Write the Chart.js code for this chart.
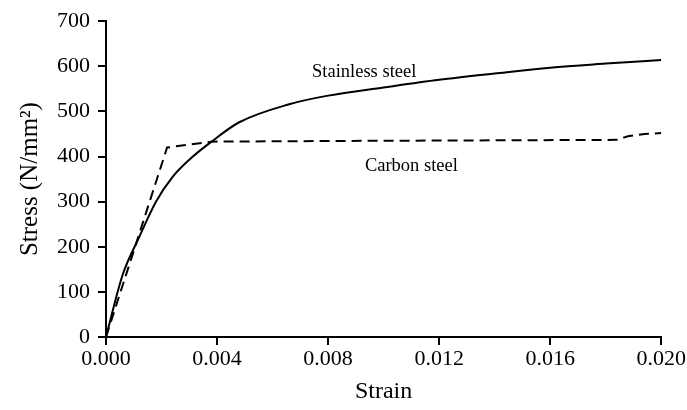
<!DOCTYPE html>
<html>
<head>
<meta charset="utf-8">
<script src="https://cdn.jsdelivr.net/npm/chart.js@4"></script>
<style>
  body { margin: 0; background: #fff; }
</style>
</head>
<body>
<canvas id="c" width="687" height="410"></canvas>
<script>
// ====== Data ======
const stainlessStrain = [0, 0.0006, 0.0012, 0.0018, 0.0024, 0.0030, 0.0038, 0.0048, 0.0066, 0.0080, 0.0100, 0.0120, 0.0140, 0.0160, 0.0180, 0.0200];
const stainlessStress = [0, 138, 222, 300, 355, 393, 433, 476, 516, 535, 553, 570, 584, 597, 606, 614];

const carbonStrain = [0, 0.0022, 0.0038, 0.0100, 0.0184, 0.0188, 0.0194, 0.0200];
const carbonStress = [0, 420, 433, 435, 437, 445, 450, 452];

const xTicks = [0, 0.004, 0.008, 0.012, 0.016, 0.020];

// text labels placed in data units
const labels = [
  { text: "Stainless steel", x: 0.0093, y: 586 },
  { text: "Carbon steel", x: 0.0110, y: 378 }
];

const font = "'Liberation Serif', 'Times New Roman', serif";

const zip = (xs, ys) => xs.map((x, i) => ({ x: x, y: ys[i] }));

const labelPlugin = {
  id: "curveLabels",
  afterDatasetsDraw(chart) {
    const ctx = chart.ctx;
    ctx.save();
    ctx.fillStyle = "#000";
    ctx.font = "18.5px " + font;
    ctx.textAlign = "center";
    ctx.textBaseline = "middle";
    labels.forEach(l => {
      ctx.fillText(l.text, chart.scales.x.getPixelForValue(l.x), chart.scales.y.getPixelForValue(l.y));
    });
    ctx.restore();
  }
};

new Chart(document.getElementById("c"), {
  type: "scatter",
  data: {
    datasets: [{
      label: "Stainless steel",
      data: zip(stainlessStrain, stainlessStress),
      showLine: true,
      borderColor: "#000",
      borderWidth: 2,
      pointRadius: 0,
      cubicInterpolationMode: "monotone"
    }, {
      label: "Carbon steel",
      data: zip(carbonStrain, carbonStress),
      showLine: true,
      borderColor: "#000",
      borderWidth: 2,
      borderDash: [10, 6],
      pointRadius: 0,
      tension: 0
    }]
  },
  options: {
    responsive: false,
    animation: false,
    layout: { padding: { top: 20, right: 25, left: 0, bottom: 0 } },
    plugins: { legend: { display: false }, tooltip: { enabled: false } },
    scales: {
      x: {
        type: "linear",
        min: 0,
        max: 0.020,
        afterBuildTicks: s => { s.ticks = xTicks.map(v => ({ value: v })); },
        afterFit: s => { s.height = 73; },
        ticks: {
          color: "#000",
          font: { family: font, size: 22 },
          padding: 1,
          maxRotation: 0,
          callback: v => v.toFixed(3)
        },
        grid: { drawOnChartArea: false, drawTicks: true, tickLength: 8, color: "#000", lineWidth: 2 },
        border: { color: "#000", width: 2 },
        title: { display: true, text: "Strain", color: "#000", font: { family: font, size: 24 }, padding: { top: 0 } }
      },
      y: {
        min: 0,
        max: 700,
        afterFit: s => { s.width = 106; },
        ticks: { stepSize: 100, color: "#000", font: { family: font, size: 22 }, padding: 8 },
        grid: { drawOnChartArea: false, drawTicks: true, tickLength: 8, color: "#000", lineWidth: 2 },
        border: { color: "#000", width: 2 },
        title: { display: true, text: "Stress (N/mm²)", color: "#000", font: { family: font, size: 25 }, padding: { top: 15, bottom: 4 } }
      }
    }
  },
  plugins: [labelPlugin]
});
</script>
</body>
</html>
